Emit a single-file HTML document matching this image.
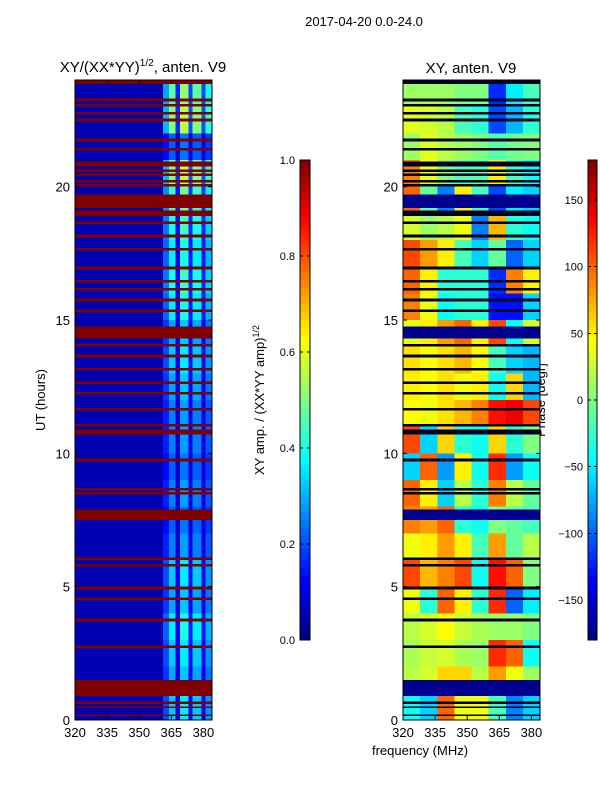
<!DOCTYPE html>
<html><head><meta charset="utf-8">
<style>
body{margin:0;background:#fff;font-family:"Liberation Sans","DejaVu Sans",sans-serif;}
svg text{font-family:"Liberation Sans","DejaVu Sans",sans-serif;fill:#000;}
</style></head>
<body>
<svg id="fig" width="600" height="800" viewBox="0 0 600 800" xmlns="http://www.w3.org/2000/svg">
<rect width="600" height="800" fill="#fff"/>
<text x="364" y="26" font-size="13" text-anchor="middle">2017-04-20 0.0-24.0</text>
<text x="143" y="72" font-size="15" text-anchor="middle">XY/(XX*YY)<tspan font-size="10" dy="-6">1/2</tspan><tspan dy="6">, anten. V9</tspan></text>
<text x="471" y="73" font-size="15" text-anchor="middle">XY, anten. V9</text>
<text transform="translate(45,400) rotate(-90)" font-size="13" text-anchor="middle">UT (hours)</text>
<text transform="translate(264,400) rotate(-90)" font-size="13" text-anchor="middle">XY amp. / (XX*YY amp)<tspan font-size="9" dy="-5">1/2</tspan></text>
<text transform="translate(545,400) rotate(-90)" font-size="13" text-anchor="middle">Phase [degr]</text>
<text x="420" y="755" font-size="13" text-anchor="middle">frequency (MHz)</text>
<g id="layer"></g>
</svg>
<script>
// ---- data ----
const hours = [0,1,2,3,4,5,6,7,8,9,10,11,12,13,14,15,16,17,18,19,20,21,22,23];
const freqEdges = [320,328,336,344,352,360,368,376,384];
// phase (degrees) per hour row (0..23) x freq column
const phaseRows = [
 [-40,-60,100,40,40,-20,-90,-60],
 [20,30,60,60,20,80,40,10],
 [15,25,30,15,10,120,100,-40],
 [20,30,45,25,15,10,10,0],
 [40,-30,100,50,-30,120,-100,-50],
 [110,70,90,110,-40,130,100,0],
 [40,50,80,50,-20,80,-10,20],
 [90,80,100,-30,-40,0,-10,-20],
 [100,50,-60,20,-30,90,20,-10],
 [-60,100,-80,50,-40,120,-80,-40],
 [110,-60,60,-30,-40,60,-30,0],
 [45,40,55,70,90,130,140,110],
 [50,45,55,40,50,-40,60,-70],
 [55,45,55,70,45,-20,-60,-70],
 [35,50,80,100,50,110,-40,30],
 [90,40,-40,-30,-30,-130,-130,-60],
 [100,50,-30,-30,-30,-120,90,50],
 [110,80,50,-20,-60,-10,-100,-60],
 [30,10,20,40,-90,70,-30,-40],
 [100,-10,-90,50,-20,-110,-50,-60],
 [90,40,0,-15,-15,50,-20,-40],
 [10,35,20,10,0,-15,-5,0],
 [35,30,20,-20,-30,-110,-70,-30],
 [10,10,10,0,0,-120,-50,-20]
];
// amplitude: band edges & base values
const ampEdges = [320,361,364,367,369,373,375,379,381,384];
const ampBase = [0.05,0.22,0.36,0.12,0.4,0.15,0.36,0.15,0.3];
const ampHourFactor = [0.9,0.8,0.9,1,0.8,0.9,0.7,0.6,0.7,0.6,0.7,0.7,0.8,0.9,0.8,1,1.1,1.0,1.1,1.2,1.4,0.6,1.4,1.3];
// flagged time intervals [start,end] hours
const flagged = [[23.85,23.98],[23.2,23.3],[23.0,23.1],[22.7,22.8],[22.45,22.55],[21.7,21.8],[21.35,21.45],[20.75,20.95],[20.55,20.65],[20.4,20.5],[20.15,20.25],[20.0,20.1],[19.2,19.7],[18.9,19.1],[18.6,18.7],[18.1,18.2],[17.6,17.7],[16.9,17.0],[16.4,16.5],[16.1,16.2],[15.7,15.8],[15.3,15.4],[14.3,14.75],[14.0,14.1],[13.6,13.7],[13.1,13.2],[12.6,12.7],[12.2,12.3],[11.6,11.7],[11.0,11.1],[10.7,10.9],[9.7,9.8],[8.6,8.7],[8.45,8.55],[7.5,7.9],[6.0,6.1],[5.75,5.85],[4.9,5.0],[4.5,4.6],[3.7,3.8],[2.7,2.8],[0.9,1.5],[0.6,0.7],[0.45,0.5],[0.15,0.2]];
const yTicks = [0,5,10,15,20];
const xTicks = [320,335,350,365,380];
const ampTicks = [0.0,0.2,0.4,0.6,0.8,1.0];
const phaseTicks = [-150,-100,-50,0,50,100,150];

// ---- helpers ----
const NS="http://www.w3.org/2000/svg";
const layer=document.getElementById('layer');
function jet(v){v=Math.max(0,Math.min(1,v));
 const r=Math.max(0,Math.min(1,1.5-Math.abs(4*v-3))),g=Math.max(0,Math.min(1,1.5-Math.abs(4*v-2))),b=Math.max(0,Math.min(1,1.5-Math.abs(4*v-1)));
 return `rgb(${Math.round(r*255)},${Math.round(g*255)},${Math.round(b*255)})`;}
function mk(tag,attrs,parent){const e=document.createElementNS(NS,tag);for(const k in attrs)e.setAttribute(k,attrs[k]);(parent||layer).appendChild(e);return e;}
const Y0=720,Y1=80;
function yScale(t){return Y0-(t/24)*(Y0-Y1);}
function xL(f){return 75+(f-320)*(137/64);}
function xR(f){return 403+(f-320)*(137/64);}
function ampCb(v){return 640-v*480;}
function phCb(p){return 400-p*480/360;}

// ---- left amplitude heatmap ----
const gL=mk('g',{'shape-rendering':'crispEdges'});


hours.forEach((h,i)=>{
 for(let j=0;j<ampBase.length;j++){
  const v=j===0?ampBase[j]:ampBase[j]*ampHourFactor[i];
  const r=mk('rect',{x:xL(ampEdges[j]),y:yScale(h+1),width:xL(ampEdges[j+1])-xL(ampEdges[j]),height:yScale(h)-yScale(h+1),fill:jet(v)},gL);
  
  
 }
});
flagged.forEach(([a,b])=>{
 const r=mk('rect',{x:xL(320),y:yScale(b),width:xL(384)-xL(320),height:Math.max(1,yScale(a)-yScale(b)),fill:jet(1)},gL);
 
 
});

// ---- right phase heatmap ----
const gR=mk('g',{'shape-rendering':'crispEdges'});


hours.forEach((h,i)=>{
 for(let j=0;j<8;j++){
  const r=mk('rect',{x:xR(freqEdges[j]),y:yScale(h+1),width:xR(freqEdges[j+1])-xR(freqEdges[j]),height:yScale(h)-yScale(h+1),fill:jet((phaseRows[i][j]+180)/360)},gR);
  
  
 }
});
flagged.forEach(([a,b])=>{
 const thick=(b-a)>0.25;
 const r=mk('rect',{x:xR(320),y:yScale(b),width:xR(384)-xR(320),height:Math.max(1,yScale(a)-yScale(b)),fill:thick?'#00008f':'#000020'},gR);
 
 
});

// ---- axes frames & ticks ----
function axes(xfn,name){
 const g=mk('g',{});
 
 
 mk('rect',{x:xfn(320),y:Y1,width:xfn(384)-xfn(320),height:Y0-Y1,fill:'none',stroke:'#000','stroke-width':1},g);
 yTicks.forEach(t=>{
  const y=yScale(t);
  mk('line',{x1:xfn(320),x2:xfn(320)+4,y1:y,y2:y,stroke:'#000'},g);
  mk('line',{x1:xfn(384),x2:xfn(384)-4,y1:y,y2:y,stroke:'#000'},g);
  const tx=mk('text',{x:xfn(320)-5,y:y+5,'font-size':13,'text-anchor':'end'},g);
  tx.textContent=String(t);
  
  
 });
 xTicks.forEach(f=>{
  const x=xfn(f);
  mk('line',{x1:x,x2:x,y1:Y0,y2:Y0-4,stroke:'#000'},g);
  mk('line',{x1:x,x2:x,y1:Y1,y2:Y1+4,stroke:'#000'},g);
  const tx=mk('text',{x:x,y:Y0+17,'font-size':13,'text-anchor':'middle'},g);
  tx.textContent=String(f);
  
  
 });
}
axes(xL,'amplitude-axes');
axes(xR,'phase-axes');

// ---- colorbars ----
function colorbar(x,w,name,ticks,scale,norm){
 const g=mk('g',{'shape-rendering':'crispEdges'});
 
 
 for(let k=0;k<120;k++){
  mk('rect',{x:x,y:160+k*4,width:w,height:4.5,fill:jet(1-(k+0.5)/120)},g);
 }
 mk('rect',{x:x,y:160,width:w,height:480,fill:'none',stroke:'#000'},g);
 ticks.forEach(t=>{
  const y=scale(t);
  mk('line',{x1:x,x2:x+3,y1:y,y2:y,stroke:'#000'},g);
  mk('line',{x1:x+w,x2:x+w-3,y1:y,y2:y,stroke:'#000'},g);
  const tx=mk('text',{x:x-5,y:y+4,'font-size':11,'text-anchor':'end'},g);
  tx.textContent=norm(t);
  
  
 });
}
colorbar(300,10,'amplitude-colorbar',ampTicks,ampCb,t=>t.toFixed(1));
colorbar(588,9,'phase-colorbar',phaseTicks,phCb,t=>String(t).replace('-','\u2212'));
</script>
</body></html>
